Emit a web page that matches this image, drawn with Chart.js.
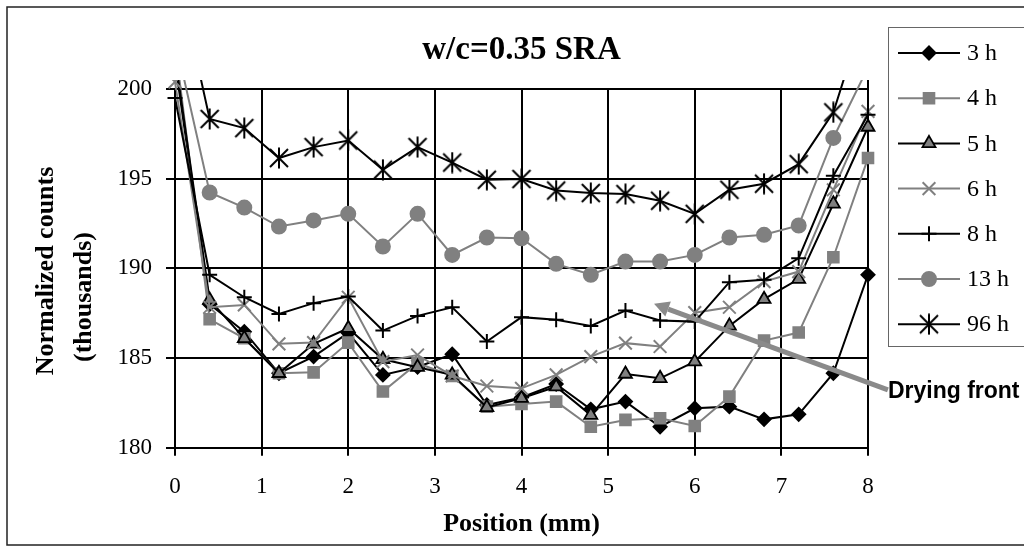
<!DOCTYPE html>
<html>
<head>
<meta charset="utf-8">
<title>w/c=0.35 SRA</title>
<script src="https://cdn.jsdelivr.net/npm/chart.js@4/dist/chart.umd.min.js"></script>
<style>
    html, body { margin: 0; padding: 0; background: #fff; }
    canvas { display: block; }
</style>
</head>
<body>
<canvas id="profile-chart" width="1024" height="552"></canvas>
<script>
// Moisture profile - normalized counts along the specimen, one series per drying time

const positions = [0, 0.4, 0.8, 1.2, 1.6, 2, 2.4, 2.8, 3.2, 3.6, 4, 4.4, 4.8, 5.2, 5.6, 6, 6.4, 6.8, 7.2, 7.6, 8];
// the 3 h run has a second reading at the right edge
const positions3h = [0, 0.4, 0.8, 1.2, 1.6, 2, 2.4, 2.8, 3.2, 3.6, 4, 4.4, 4.8, 5.2, 5.6, 6, 6.4, 6.8, 7.2, 7.6, 8, 8];

const h3 = [201.5, 188.0, 186.47, 184.15, 185.08, 186.4, 184.06, 184.5, 185.21, 182.38, 182.8, 183.55, 182.14, 182.57, 181.17, 182.2, 182.29, 181.58, 181.86, 184.15, 189.64, 205];
const h4 = [202.5, 187.16, 186.1, 184.15, 184.2, 185.86, 183.13, 184.71, 184.0, 182.29, 182.44, 182.57, 181.17, 181.55, 181.64, 181.21, 182.85, 185.97, 186.42, 190.62, 196.15];
const h5 = [201.8, 188.24, 186.1, 184.15, 185.79, 186.66, 184.93, 184.49, 184.06, 182.25, 182.76, 183.4, 181.82, 184.11, 183.87, 184.8, 186.79, 188.28, 189.4, 193.6, 197.88];
const h6 = [200.4, 187.83, 187.96, 185.79, 185.86, 188.39, 184.8, 185.17, 184.0, 183.44, 183.31, 184.06, 185.08, 185.83, 185.64, 187.53, 187.83, 189.26, 189.82, 194.38, 198.75];
const h8 = [199.5, 189.64, 188.39, 187.46, 188.06, 188.43, 186.53, 187.35, 187.83, 185.92, 187.28, 187.13, 186.79, 187.65, 187.09, 187.03, 189.23, 189.36, 190.57, 195.16, 198.57];
const h13 = [202.8, 194.23, 193.39, 192.33, 192.67, 193.04, 191.22, 193.04, 190.75, 191.72, 191.68, 190.25, 189.64, 190.38, 190.38, 190.75, 191.72, 191.87, 192.39, 197.27, 201.2];
const h96 = [207.1, 198.33, 197.82, 196.15, 196.76, 197.13, 195.5, 196.76, 195.9, 194.94, 194.98, 194.34, 194.2, 194.14, 193.77, 193.04, 194.38, 194.72, 195.81, 198.7, 204.8];

const seriesLabels = ['3 h', '4 h', '5 h', '6 h', '8 h', '13 h', '96 h'];

// arrow for the drying front, in axis units (tail, tip)
const frontTail = [8.23, 183.22];
const frontTip = [5.53, 188.02];

const SERIF = "'Liberation Serif', 'Times New Roman', serif";
const BLACK = '#000000';
const GRAY = '#808080';

// Excel style asterisk marker: vertical bar plus an X
function makeStarMarker() {
    const c = document.createElement('canvas');
    c.width = 22;
    c.height = 22;
    const g = c.getContext('2d');
    g.strokeStyle = BLACK;
    g.lineWidth = 2;
    g.beginPath();
    g.moveTo(11, 0.5); g.lineTo(11, 21.5);
    g.moveTo(2, 2); g.lineTo(20, 20);
    g.moveTo(2, 20); g.lineTo(20, 2);
    g.stroke();
    return c;
}

function toPoints(xs, ys) {
    return ys.map((y, i) => ({ x: xs[i], y: y }));
}

const styles = [
    { line: BLACK, fill: BLACK, border: BLACK, pointStyle: 'rectRot', radius: 6.5 },
    { line: GRAY, fill: GRAY, border: GRAY, pointStyle: 'rect', radius: 7.5 },
    { line: BLACK, fill: GRAY, border: BLACK, pointStyle: 'triangle', radius: 7.5 },
    { line: GRAY, fill: GRAY, border: GRAY, pointStyle: 'crossRot', radius: 9 },
    { line: BLACK, fill: BLACK, border: BLACK, pointStyle: 'cross', radius: 7.5 },
    { line: GRAY, fill: GRAY, border: GRAY, pointStyle: 'circle', radius: 7 },
    { line: BLACK, fill: BLACK, border: BLACK, pointStyle: makeStarMarker(), radius: 10 }
];

const seriesData = [
    toPoints(positions3h, h3),
    toPoints(positions, h4),
    toPoints(positions, h5),
    toPoints(positions, h6),
    toPoints(positions, h8),
    toPoints(positions, h13),
    toPoints(positions, h96)
];

const datasets = seriesLabels.map((label, i) => ({
    label: label,
    data: seriesData[i],
    borderColor: styles[i].line,
    borderWidth: 2,
    pointStyle: styles[i].pointStyle,
    pointRadius: styles[i].radius,
    pointBackgroundColor: styles[i].fill,
    pointBorderColor: styles[i].border,
    pointBorderWidth: styles[i].pointStyle === 'triangle' ? 1.8 : 2,
    tension: 0,
    fill: false,
    clip: { left: 14, top: 9, right: 14, bottom: 14 },
    // later series are painted over earlier ones
    order: seriesLabels.length - i
}));

// frame, legend box, y title and drying front arrow
const decorations = {
    id: 'decorations',
    beforeDraw(chart) {
        const ctx = chart.ctx;
        ctx.save();
        ctx.fillStyle = '#ffffff';
        ctx.fillRect(0, 0, chart.width, chart.height);
        ctx.strokeStyle = '#222';
        ctx.lineWidth = 1.5;
        ctx.strokeRect(7, 7, 1040, 538);
        ctx.restore();
    },
    afterDatasetsDraw(chart) {
        const ctx = chart.ctx;
        const xs = chart.scales.x;
        const ys = chart.scales.y;
        const tx = xs.getPixelForValue(frontTail[0]);
        const ty = ys.getPixelForValue(frontTail[1]);
        const px = xs.getPixelForValue(frontTip[0]);
        const py = ys.getPixelForValue(frontTip[1]);
        const ang = Math.atan2(py - ty, px - tx);
        const head = 15;
        const bx = px - Math.cos(ang) * head;
        const by = py - Math.sin(ang) * head;

        ctx.save();
        ctx.strokeStyle = '#8a8a8a';
        ctx.fillStyle = '#8a8a8a';
        ctx.lineWidth = 5;
        ctx.beginPath();
        ctx.moveTo(tx, ty);
        ctx.lineTo(bx, by);
        ctx.stroke();
        ctx.beginPath();
        ctx.moveTo(px, py);
        ctx.lineTo(bx + Math.sin(ang) * 8, by - Math.cos(ang) * 8);
        ctx.lineTo(bx - Math.sin(ang) * 8, by + Math.cos(ang) * 8);
        ctx.closePath();
        ctx.fill();

        ctx.fillStyle = BLACK;
        ctx.font = "bold 23px 'Liberation Sans', Arial, sans-serif";
        ctx.textAlign = 'left';
        ctx.textBaseline = 'middle';
        ctx.fillText('Drying front', tx, ty + 2);
        ctx.restore();
    },
    afterDraw(chart) {
        const ctx = chart.ctx;
        ctx.save();

        // y axis title, two lines
        ctx.fillStyle = BLACK;
        ctx.font = 'bold 26px ' + SERIF;
        ctx.textAlign = 'center';
        ctx.textBaseline = 'middle';
        ctx.translate(46, 271);
        ctx.rotate(-Math.PI / 2);
        ctx.fillText('Normalized counts', 0, 0);
        ctx.fillText('(thousands)', -26, 38);
        ctx.setTransform(1, 0, 0, 1, 0, 0);

        // legend
        const left = 888, top = 27, w = 140, h = 319;
        ctx.fillStyle = '#ffffff';
        ctx.fillRect(left, top, w, h);
        ctx.strokeStyle = '#666';
        ctx.lineWidth = 1;
        ctx.strokeRect(left + 0.5, top + 0.5, w, h);

        const helpers = Chart.helpers;
        seriesLabels.forEach((label, i) => {
            const y = 53 + i * 45.2;
            const st = styles[i];
            ctx.strokeStyle = st.line;
            ctx.lineWidth = 2;
            ctx.beginPath();
            ctx.moveTo(898, y);
            ctx.lineTo(960, y);
            ctx.stroke();

            ctx.fillStyle = st.fill;
            ctx.strokeStyle = st.border;
            ctx.lineWidth = st.pointStyle === 'triangle' ? 1.8 : 2;
            helpers.drawPoint(ctx, {
                pointStyle: st.pointStyle,
                radius: st.radius,
                rotation: 0,
                borderWidth: ctx.lineWidth
            }, 929, y);

            ctx.fillStyle = BLACK;
            ctx.font = '24px ' + SERIF;
            ctx.textAlign = 'left';
            ctx.textBaseline = 'middle';
            ctx.fillText(label, 967, y + 1);
        });
        ctx.restore();
    }
};

const ctx = document.getElementById('profile-chart').getContext('2d');

new Chart(ctx, {
    type: 'line',
    data: { datasets: datasets },
    options: {
        responsive: false,
        animation: false,
        layout: { padding: { left: 0, right: 156, top: 0, bottom: 0 } },
        plugins: {
            legend: { display: false },
            tooltip: { enabled: false },
            title: {
                display: true,
                text: 'w/c=0.35 SRA',
                fullSize: false,
                color: BLACK,
                font: { family: SERIF, size: 33, weight: 'bold' },
                padding: { top: 31, bottom: 18.4 }
            }
        },
        scales: {
            x: {
                type: 'linear',
                min: 0,
                max: 8,
                afterFit: (scale) => { scale.height = 104.3; },
                ticks: {
                    stepSize: 1,
                    color: BLACK,
                    font: { family: SERIF, size: 23 },
                    padding: 17,
                    maxRotation: 0
                },
                grid: { color: BLACK, lineWidth: 2, tickLength: 8 },
                border: { color: BLACK, width: 2 },
                title: {
                    display: true,
                    text: 'Position (mm)',
                    color: BLACK,
                    font: { family: SERIF, size: 26, weight: 'bold' },
                    padding: { top: 0, bottom: 12.4 }
                }
            },
            y: {
                type: 'linear',
                min: 180,
                max: 200,
                afterFit: (scale) => { scale.width = 175; },
                ticks: {
                    stepSize: 5,
                    color: BLACK,
                    font: { family: SERIF, size: 23 },
                    padding: 14
                },
                grid: { color: BLACK, lineWidth: 2, tickLength: 9 },
                border: { color: BLACK, width: 2 }
            }
        }
    },
    plugins: [decorations]
});
</script>
</body>
</html>
